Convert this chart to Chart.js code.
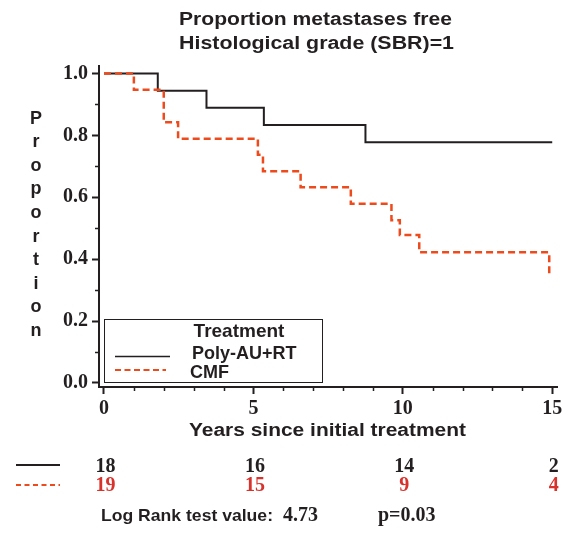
<!DOCTYPE html>
<html>
<head>
<meta charset="utf-8">
<script src="https://cdn.jsdelivr.net/npm/chart.js@4.4.1/dist/chart.umd.min.js"></script>
<style>
  html, body { margin: 0; padding: 0; background: #ffffff; }
  #wrap { position: relative; width: 574px; height: 539px; }
</style>
</head>
<body>
<div id="wrap"><canvas id="kmChart" width="574" height="539"></canvas></div>
<script>
// Kaplan-Meier estimates (years, proportion metastases free)
const polyTimes = [0, 1.8, 3.43, 5.35, 8.75, 15];
const polySurv = [1, 0.944, 0.889, 0.833, 0.778, 0.778];
const cmfTimes = [0, 1.0, 2.0, 2.48, 5.15, 5.32, 6.58, 8.26, 9.62, 9.9, 10.55, 14.9];
const cmfSurv = [1, 0.947, 0.842, 0.789, 0.737, 0.684, 0.632, 0.579, 0.526, 0.478, 0.422, 0.343];

const groupNames = ["Poly-AU+RT", "CMF"];
const titleLines = ["Proportion metastases free", "Histological grade (SBR)=1"];
const xTitle = "Years since initial treatment";
const yTitle = "Proportion";
const legendTitle = "Treatment";

// axis ticks
const xTicks = [0, 1, 2, 3, 4, 5, 6, 7, 8, 9, 10, 11, 12, 13, 14, 15];
const xLabelTicks = [0, 5, 10, 15];
const yTicks = [0, 0.1, 0.2, 0.3, 0.4, 0.5, 0.6, 0.7, 0.8, 0.9, 1.0];
const yLabelTicks = [0, 0.2, 0.4, 0.6, 0.8, 1.0];

// numbers at risk
const riskTimes = [0, 5, 10, 15];
const polyAtRisk = [18, 16, 14, 2];
const cmfAtRisk = [19, 15, 9, 4];

const logRankValue = "4.73";
const pValue = "p=0.03";

const DARK = "#231f20";
const RED_LINE = "#ee4a1c";
const RED_TEXT = "#d8322c";
const SANS = "'Liberation Sans', Arial, sans-serif";
const SERIF = "'Liberation Serif', 'Times New Roman', serif";

function isIn(list, v) {
  return list.some((t) => Math.abs(t - v) < 1e-6);
}

// draw text, optionally stretched to a given width
function putText(ctx, text, x, y, font, color, align, width) {
  ctx.save();
  ctx.font = font;
  ctx.fillStyle = color;
  ctx.textBaseline = "alphabetic";
  ctx.textAlign = "left";
  const w = ctx.measureText(text).width;
  const target = width || w;
  let left = x;
  if (align === "center") left = x - target / 2;
  if (align === "right") left = x - target;
  ctx.translate(left, y);
  ctx.scale(target / w, 1);
  ctx.fillText(text, 0, 0);
  ctx.restore();
}

const extras = {
  id: "extras",
  afterDraw(chart) {
    const ctx = chart.ctx;
    const xs = chart.scales.x;
    const ys = chart.scales.y;
    const area = chart.chartArea;

    // minor ticks
    ctx.save();
    ctx.strokeStyle = DARK;
    ctx.lineWidth = 1.5;
    xTicks.filter((v) => !isIn(xLabelTicks, v)).forEach((v) => {
      const px = Math.round(xs.getPixelForValue(v)) + 0.5;
      ctx.beginPath();
      ctx.moveTo(px, area.bottom);
      ctx.lineTo(px, area.bottom + 4);
      ctx.stroke();
    });
    yTicks.filter((v) => !isIn(yLabelTicks, v)).forEach((v) => {
      const py = Math.round(ys.getPixelForValue(v)) + 0.5;
      ctx.beginPath();
      ctx.moveTo(area.left - 4, py);
      ctx.lineTo(area.left, py);
      ctx.stroke();
    });
    ctx.restore();

    // title
    putText(ctx, titleLines[0], 315.5, 24.5, "bold 18px " + SANS, DARK, "center", 273);
    putText(ctx, titleLines[1], 316.5, 48.5, "bold 18px " + SANS, DARK, "center", 275);

    // y title as stacked letters
    yTitle.split("").forEach((ch, i) => {
      putText(ctx, ch, 36, 123.5 + i * 23.6, "bold 18px " + SANS, DARK, "center");
    });

    // x title
    putText(ctx, xTitle, 189, 436, "bold 17.5px " + SANS, DARK, "left", 277);

    // legend box
    ctx.save();
    ctx.fillStyle = "#ffffff";
    ctx.fillRect(104.5, 319.5, 218, 63);
    ctx.strokeStyle = DARK;
    ctx.lineWidth = 1;
    ctx.strokeRect(104.5, 319.5, 218, 63);
    ctx.lineWidth = 1.5;
    ctx.beginPath();
    ctx.moveTo(115, 356.5);
    ctx.lineTo(170, 356.5);
    ctx.stroke();
    ctx.strokeStyle = RED_LINE;
    ctx.lineWidth = 2;
    ctx.setLineDash([6, 3.5]);
    ctx.beginPath();
    ctx.moveTo(115, 370);
    ctx.lineTo(166, 370);
    ctx.stroke();
    ctx.restore();
    putText(ctx, legendTitle, 239, 337.3, "bold 19px " + SANS, DARK, "center");
    putText(ctx, groupNames[0], 192, 359, "bold 18px " + SANS, DARK, "left");
    putText(ctx, groupNames[1], 190, 377.7, "bold 18px " + SANS, DARK, "left");

    // numbers at risk
    ctx.save();
    ctx.strokeStyle = DARK;
    ctx.lineWidth = 2;
    ctx.beginPath();
    ctx.moveTo(16, 465);
    ctx.lineTo(60, 465);
    ctx.stroke();
    ctx.strokeStyle = RED_LINE;
    ctx.setLineDash([5, 3.5]);
    ctx.beginPath();
    ctx.moveTo(16, 485);
    ctx.lineTo(60, 485);
    ctx.stroke();
    ctx.restore();
    riskTimes.forEach((t, i) => {
      const px = xs.getPixelForValue(t) + 1.5;
      putText(ctx, String(polyAtRisk[i]), px, 471.7, "bold 20px " + SERIF, DARK, "center");
      putText(ctx, String(cmfAtRisk[i]), px, 491, "bold 20px " + SERIF, RED_TEXT, "center");
    });

    // log rank line
    putText(ctx, "Log Rank test value:", 101, 521, "bold 17px " + SANS, DARK, "left", 172);
    putText(ctx, logRankValue, 283, 521, "bold 20px " + SERIF, DARK, "left");
    putText(ctx, pValue, 378, 521, "bold 20px " + SERIF, DARK, "left");
  },
};

const ctx = document.getElementById("kmChart").getContext("2d");
new Chart(ctx, {
  type: "line",
  data: {
    datasets: [
      {
        label: groupNames[0],
        data: polyTimes.map((t, i) => ({ x: t, y: polySurv[i] })),
        borderColor: DARK,
        borderWidth: 2,
        stepped: true,
        pointRadius: 0,
        fill: false,
        order: 1,
      },
      {
        label: groupNames[1],
        data: cmfTimes.map((t, i) => ({ x: t, y: cmfSurv[i] })),
        borderColor: RED_LINE,
        borderWidth: 2.5,
        borderDash: [7, 4],
        stepped: true,
        pointRadius: 0,
        fill: false,
        order: 0,
      },
    ],
  },
  options: {
    responsive: false,
    animation: false,
    layout: { padding: { top: 66, right: 17, left: 0, bottom: 0 } },
    plugins: {
      legend: { display: false },
      tooltip: { enabled: false },
      title: { display: false },
    },
    scales: {
      x: {
        type: "linear",
        min: -0.167,
        max: 15.16,
        afterBuildTicks: (s) => {
          s.ticks = xTicks.map((v) => ({ value: v }));
        },
        afterFit: (s) => {
          s.height = 152;
        },
        grid: {
          drawOnChartArea: false,
          tickLength: 7,
          tickWidth: 2,
          tickColor: (c) => (c.tick && isIn(xLabelTicks, c.tick.value) ? DARK : "rgba(0,0,0,0)"),
        },
        border: { color: DARK, width: 2 },
        ticks: {
          autoSkip: false,
          maxRotation: 0,
          padding: 3,
          color: DARK,
          font: { family: SERIF, size: 20, weight: "bold" },
          callback: (v) => (isIn(xLabelTicks, v) ? String(v) : ""),
        },
      },
      y: {
        type: "linear",
        min: -0.013,
        max: 1.024,
        afterBuildTicks: (s) => {
          s.ticks = yTicks.map((v) => ({ value: v }));
        },
        afterFit: (s) => {
          s.width = 99;
        },
        grid: {
          drawOnChartArea: false,
          tickLength: 7,
          tickWidth: 2,
          tickColor: (c) => (c.tick && isIn(yLabelTicks, c.tick.value) ? DARK : "rgba(0,0,0,0)"),
        },
        border: { color: DARK, width: 2 },
        ticks: {
          autoSkip: false,
          padding: 4,
          color: DARK,
          font: { family: SERIF, size: 20, weight: "bold" },
          callback: (v) => (isIn(yLabelTicks, v) ? v.toFixed(1) : ""),
        },
      },
    },
  },
  plugins: [extras],
});
</script>
</body>
</html>
